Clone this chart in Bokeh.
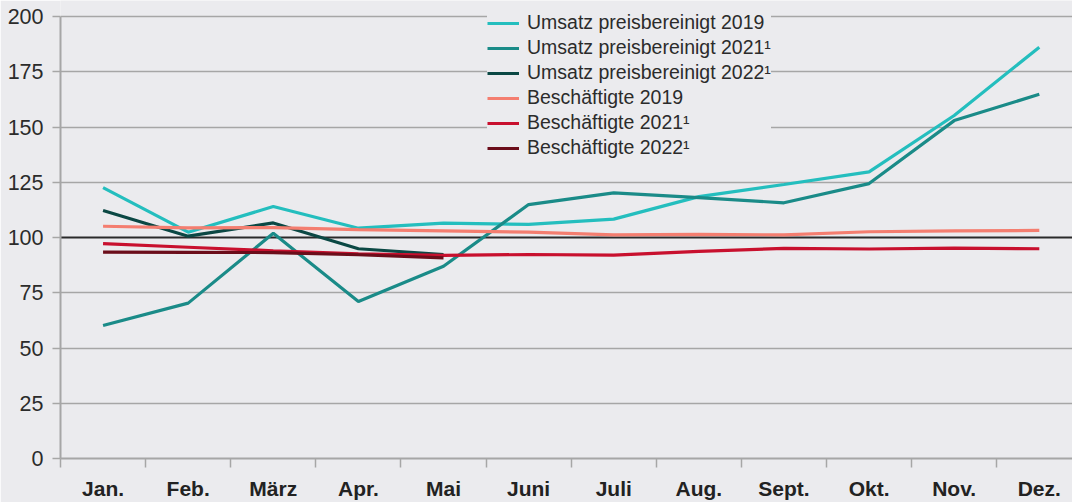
from bokeh.plotting import figure
from bokeh.models import Range1d, FixedTicker, Span, Legend, LegendItem
from bokeh.embed import file_html
from bokeh.resources import INLINE

months = ["Jan.", "Feb.", "März", "Apr.", "Mai", "Juni", "Juli", "Aug.", "Sept.", "Okt.", "Nov.", "Dez."]
umsatz_2019 = [122.6, 102.4, 114.0, 104.2, 106.5, 105.9, 108.3, 118.5, 124.0, 129.7, 155.2, 186.1]
umsatz_2021 = [60.2, 70.3, 101.9, 71.0, 87.0, 114.9, 120.2, 118.0, 115.7, 124.4, 152.9, 164.8]
umsatz_2022 = [112.2, 100.6, 106.6, 94.9, 92.3]
besch_2019 = [105.1, 104.4, 104.5, 103.6, 103.0, 102.4, 101.2, 101.4, 101.2, 102.6, 103.0, 103.2]
besch_2021 = [97.2, 95.6, 94.0, 92.6, 91.9, 92.3, 92.0, 93.7, 95.1, 94.8, 95.2, 94.9]
besch_2022 = [93.4, 93.3, 93.2, 92.2, 90.8]
y_ticks = [0, 25, 50, 75, 100, 125, 150, 175, 200]

series = [
    ("Umsatz preisbereinigt 2019", umsatz_2019, "#24BEBE"),
    ("Umsatz preisbereinigt 2021\u00b9", umsatz_2021, "#1A8B88"),
    ("Umsatz preisbereinigt 2022\u00b9", umsatz_2022, "#0B4844"),
    ("Beschäftigte 2019", besch_2019, "#F47E70"),
    ("Beschäftigte 2021\u00b9", besch_2021, "#C8102E"),
    ("Beschäftigte 2022\u00b9", besch_2022, "#6B0D1A"),
]

BG = "#EBEBEE"
FONT = "Liberation Sans"

p = figure(width=1072, height=502, output_backend="svg", toolbar_location=None,
           x_range=Range1d(-0.5, 11.39), y_range=Range1d(0, 207.24),
           min_border_left=60, min_border_right=0, min_border_top=0, min_border_bottom=44)
p.background_fill_color = BG
p.border_fill_color = BG
p.outline_line_color = None

# axes
xa = p.xaxis[0]
xa.ticker = FixedTicker(ticks=list(range(12)), minor_ticks=[i - 0.5 for i in range(12)])
xa.major_label_overrides = {i: m for i, m in enumerate(months)}
xa.major_tick_out = 0
xa.major_tick_in = 0
xa.minor_tick_out = 9
xa.minor_tick_in = 0
xa.minor_tick_line_color = "#A6A6A6"
xa.minor_tick_line_width = 1.5
xa.axis_line_color = "#A6A6A6"
xa.axis_line_width = 2
xa.major_label_text_font = FONT
xa.major_label_text_font_style = "bold"
xa.major_label_text_font_size = "21px"
xa.major_label_text_color = "#222222"
xa.major_label_standoff = 9

ya = p.yaxis[0]
ya.ticker = FixedTicker(ticks=y_ticks)
ya.bounds = (0, 200)
ya.major_tick_out = 8
ya.major_tick_in = 0
ya.minor_tick_out = 0
ya.minor_tick_in = 0
ya.major_tick_line_color = "#A6A6A6"
ya.major_tick_line_width = 1.5
ya.axis_line_color = "#A6A6A6"
ya.axis_line_width = 2
ya.major_label_text_font = FONT
ya.major_label_text_font_size = "21.5px"
ya.major_label_text_color = "#2B2B2B"
ya.major_label_standoff = 9

p.xgrid.grid_line_color = None
p.ygrid.ticker = FixedTicker(ticks=[25, 50, 75, 125, 150, 175, 200])
p.ygrid.grid_line_color = "#A6A6A6"
p.ygrid.grid_line_width = 1.5

p.add_layout(Span(location=100, dimension="width", line_color="#2A2A2A", line_width=2, level="underlay"))

items = []
for name, vals, col in series:
    r = p.line(list(range(len(vals))), vals, line_color=col, line_width=3.2)
    items.append(LegendItem(label=name, renderers=[r]))

legend = Legend(items=items, location=(427, 299), orientation="vertical",
                background_fill_color=BG, background_fill_alpha=1.0,
                border_line_color=None, padding=8, spacing=2,
                glyph_width=32, glyph_height=20, label_height=20, label_standoff=8,
                label_text_font=FONT, label_text_font_size="19.5px",
                label_text_color="#2B2B2B", margin=0)
p.add_layout(legend, "center")

open("out.html", "w").write(file_html(p, INLINE))
